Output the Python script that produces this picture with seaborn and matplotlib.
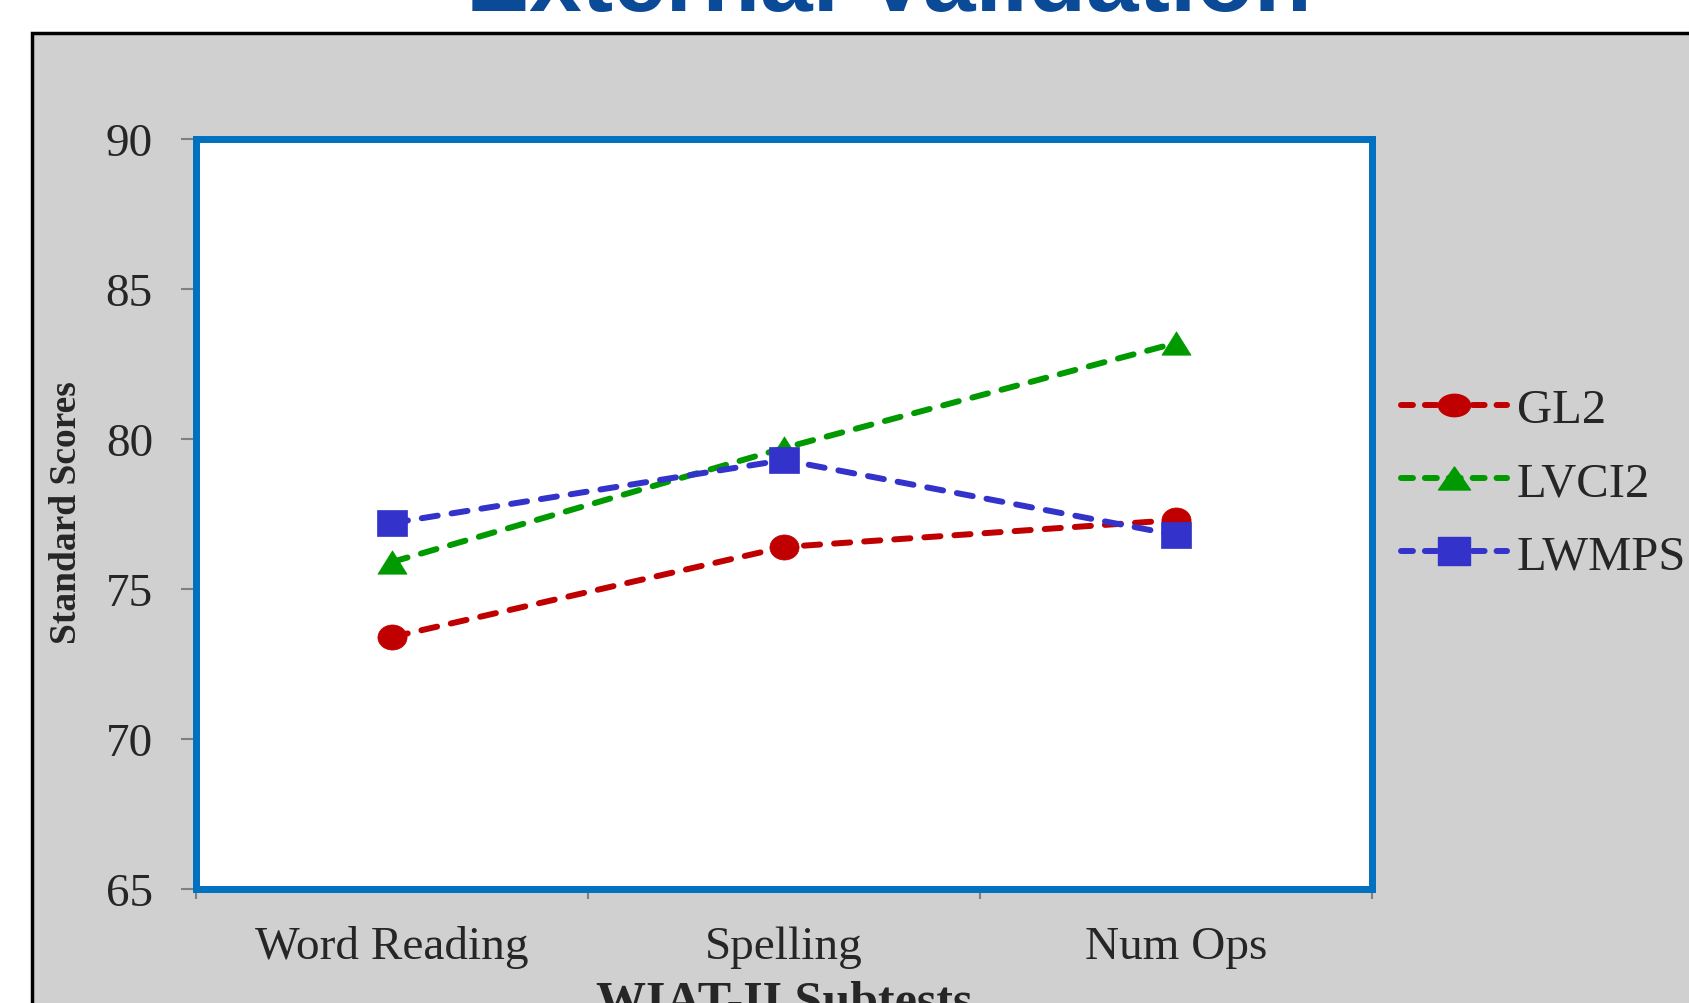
import numpy as np
import pandas as pd
import matplotlib
matplotlib.use("Agg")
import matplotlib.pyplot as plt
import seaborn as sns
from matplotlib.path import Path
from matplotlib.lines import Line2D
from matplotlib.patches import Rectangle
from matplotlib.ticker import FixedLocator, NullFormatter, FixedFormatter

# ---------------- data ----------------
subtests = ["Word Reading", "Spelling", "Num Ops"]
series_names = ["GL2", "LVCI2", "LWMPS"]
gl2 = [73.4, 76.4, 77.3]
lvci2 = [75.9, 79.7, 83.2]
lwmps = [77.2, 79.3, 76.8]
y_ticks = [65, 70, 75, 80, 85, 90]

title_text = "External Validation"
x_label = "WIAT-II Subtests"
y_label = "Standard Scores"

colors = {"GL2": "#C00000", "LVCI2": "#009A00", "LWMPS": "#3333CC"}

df = pd.DataFrame({
    "Subtest": subtests * 3,
    "Group": [n for n in series_names for _ in subtests],
    "Score": gl2 + lvci2 + lwmps,
})


# ---------------- marker shapes (slightly wide, like the reference) ----------------
def ellipse(h):
    c = Path.unit_circle()
    return Path(c.vertices * np.array([1.0, h]), c.codes)


def rect(h):
    v = np.array([[-1, -h], [1, -h], [1, h], [-1, h], [-1, -h]])
    return Path(v, [Path.MOVETO, Path.LINETO, Path.LINETO, Path.LINETO, Path.CLOSEPOLY])


def tri(h):
    v = np.array([[0, h], [-1, -h], [1, -h], [0, h]])
    return Path(v, [Path.MOVETO, Path.LINETO, Path.LINETO, Path.CLOSEPOLY])


plot_markers = {"GL2": ellipse(0.86), "LVCI2": tri(0.8), "LWMPS": rect(0.92)}
leg_markers = {"GL2": ellipse(0.7), "LVCI2": tri(0.72), "LWMPS": rect(0.85)}
LW = 4.3
dash_pat = (2.7, 2.35)

# ---------------- style ----------------
sns.set_style("white")
plt.rcParams["font.family"] = ["Liberation Serif", "DejaVu Serif"]

W, H = 1690, 1004
fig = plt.figure(figsize=(W / 100, H / 100), dpi=100)
fig.patch.set_facecolor("white")

# gray slide panel
panel = Rectangle((32 / W, -0.02), 1.2, 1 - 34 / H + 0.02, transform=fig.transFigure,
                  facecolor="#D0D0D0", edgecolor="black", linewidth=2.5, zorder=0)
fig.add_artist(panel)

ax = fig.add_axes([196 / W, 1 - 890 / H, (1372 - 196) / W, (890 - 140) / H])
ax.set_zorder(2)
ax.set_facecolor("white")

sns.lineplot(data=df, x="Subtest", y="Score", hue="Group", style="Group",
             hue_order=series_names, style_order=series_names,
             palette=colors, markers=plot_markers,
             dashes={n: dash_pat for n in series_names},
             markersize=21, linewidth=LW, markeredgewidth=0.5,
             legend=False, ax=ax, sort=False)
for ln in ax.get_lines():
    ln.set_dash_capstyle("round")
    ln.set_markeredgecolor(ln.get_color())

ax.set_xlim(-0.5, 2.5)
ax.set_ylim(65, 90)
ax.yaxis.set_major_locator(FixedLocator(y_ticks))
ax.xaxis.set_major_locator(FixedLocator([-0.5, 0.5, 1.5, 2.5]))
ax.xaxis.set_major_formatter(NullFormatter())
ax.xaxis.set_minor_locator(FixedLocator([0, 1, 2]))
ax.xaxis.set_minor_formatter(FixedFormatter(subtests))

ax.tick_params(axis="x", which="major", direction="out", length=7, width=1.5,
               color="#808080", bottom=True)
ax.tick_params(axis="x", which="minor", length=0, pad=26, labelsize=34, bottom=True)
ax.tick_params(axis="y", which="major", direction="out", length=11, width=1.5,
               color="#808080", pad=20, labelsize=34, left=True)
ax.set_xlabel("")
ax.set_ylabel("")

for s in ax.spines.values():
    s.set_color("#0070C0")
    s.set_linewidth(5)

# title (partly cut off at the top)
fig.text(889 / W, 1 - 11 / H, title_text, ha="center", va="baseline",
         fontsize=68, fontweight="bold", color="#0B4A96",
         family=["Liberation Sans", "DejaVu Sans"])

# axis labels
fig.text(67 / W, 1 - 513 / H, y_label, rotation=90, ha="center", va="center",
         fontsize=27, fontweight="bold")
fig.text(784 / W, 1 - 1016 / H, x_label, ha="center", va="baseline",
         fontsize=36, fontweight="bold")

# legend
handles = [Line2D([], [], color=colors[n], linewidth=LW, dashes=(2.0, 2.0),
                  dash_capstyle="round", marker=leg_markers[n], markersize=23,
                  markeredgecolor=colors[n], markerfacecolor=colors[n])
           for n in series_names]
fig.legend(handles, series_names, loc="center left",
           bbox_to_anchor=(1401 / W, 1 - 484 / H), frameon=False,
           borderpad=0, borderaxespad=0, handlelength=2.18, handletextpad=0.2,
           labelspacing=0.6, numpoints=1, prop={"size": 35})

fig.savefig("out.png", dpi=100)
